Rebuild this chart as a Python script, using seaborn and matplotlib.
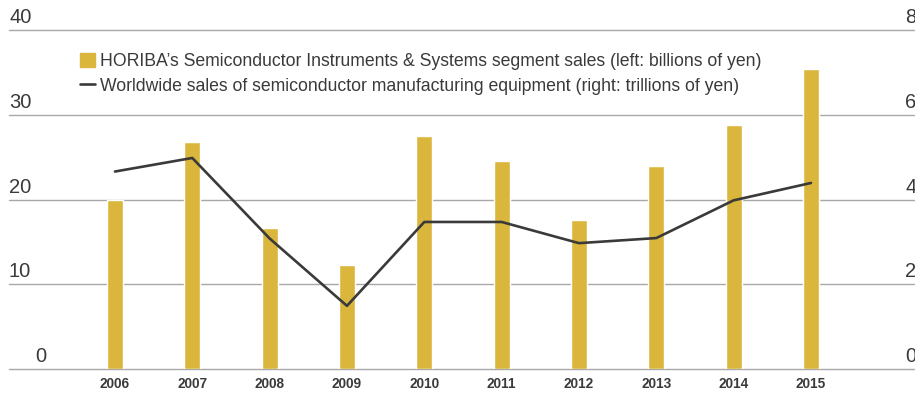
import matplotlib
matplotlib.use("Agg")
import matplotlib.pyplot as plt
import matplotlib.patches as mpatches
from matplotlib.lines import Line2D
from matplotlib.transforms import offset_copy
import seaborn as sns
import pandas as pd

# Datos
years = [2006, 2007, 2008, 2009, 2010, 2011, 2012, 2013, 2014, 2015]
segment_sales = [20.0, 26.8, 16.6, 12.3, 27.5, 24.5, 17.6, 24.0, 28.8, 35.4]   # miles de millones de yenes
equipment_sales = [4.66, 4.98, 3.08, 1.49, 3.47, 3.47, 2.97, 3.09, 3.98, 4.39]  # billones de yenes
left_ticks = [0, 10, 20, 30, 40]
right_ticks = [0, 2, 4, 6, 8]
bar_label = "HORIBA\u2019s Semiconductor Instruments & Systems segment sales (left: billions of yen)"
line_label = "Worldwide sales of semiconductor manufacturing equipment (right: trillions of yen)"

df = pd.DataFrame({"year": years, "sales": segment_sales, "equipment": equipment_sales})

sns.set_style("white")
plt.rcParams["font.family"] = ["Liberation Sans", "DejaVu Sans"]

bar_color = "#DBB63C"
line_color = "#3a3a3a"
text_color = "#3a3a3a"
grid_color = "#a8a8a8"

fig = plt.figure(figsize=(9.15, 3.93), dpi=100)
ax = fig.add_axes([9 / 915, 24 / 393, 906 / 915, 339 / 393])

sns.barplot(data=df, x="year", y="sales", native_scale=True, width=0.21,
            color=bar_color, saturation=1, ax=ax)
ax.set_xlim(years[0] - 1.37, years[-1] + 1.345)
ax.set_ylim(0, 40)
ax.set_yticks(left_ticks)
ax.yaxis.grid(True, color=grid_color, linewidth=1.0)
ax.set_axisbelow(True)
ax.set_xticks(years)
ax.set_xticklabels([str(y) for y in years], fontweight="bold", fontsize=9.8, color=text_color)
ax.set_xlabel("")
ax.set_ylabel("")
for s in ax.spines.values():
    s.set_visible(False)

ax2 = ax.twinx()
sns.lineplot(data=df, x="year", y="equipment", color=line_color, linewidth=1.9, ax=ax2)
ax2.set_ylim(0, 8)
ax2.set_yticks(right_ticks)
ax2.set_ylabel("")
for s in ax2.spines.values():
    s.set_visible(False)

# twinx vuelve a activar las marcas, se quitan después
ax.tick_params(axis="y", left=False, right=False, labelleft=False, labelright=False)
ax2.tick_params(axis="y", left=False, right=False, labelleft=False, labelright=False)
ax.tick_params(axis="x", length=0, pad=5.5)

# que la línea del 0 no quede cortada por el borde del eje
for gl in ax.get_ygridlines():
    gl.set_clip_on(False)

# Etiquetas de los ejes encima de las líneas de rejilla
for t in left_ticks:
    dx = 18.7 if t == 0 else 0
    tr = offset_copy(ax.get_yaxis_transform(), fig=fig, x=dx, y=5, units="points")
    ax.text(0, t, str(t), transform=tr, ha="left", va="baseline", fontsize=14.5, color=text_color)
for t in right_ticks:
    tr = offset_copy(ax2.get_yaxis_transform(), fig=fig, x=0, y=5, units="points")
    ax2.text(896 / 906, t, str(t), transform=tr, ha="left", va="baseline", fontsize=14.5,
             color=text_color, clip_on=False)

handles = [mpatches.Patch(color=bar_color), Line2D([], [], color=line_color, linewidth=1.9)]
fig.legend(handles, [bar_label, line_label], loc="upper left",
           bbox_to_anchor=(80 / 915, 1 - 53 / 393), frameon=False, fontsize=12.7,
           handlelength=0.85, handleheight=0.85, handletextpad=0.3, labelspacing=0.42,
           borderpad=0, borderaxespad=0, labelcolor=text_color)

plt.savefig("out.png", dpi=100)
